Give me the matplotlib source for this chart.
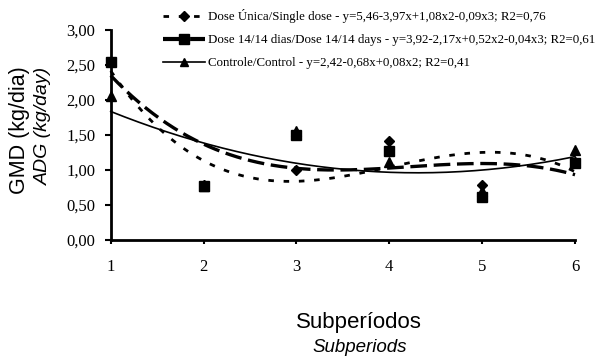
import numpy as np
import matplotlib
matplotlib.use('Agg')
import matplotlib.pyplot as plt
from matplotlib.lines import Line2D

# Subperiods on the x axis
subperiods = [1, 2, 3, 4, 5, 6]

# Average daily gain (kg/day)
dose_unica = [2.54, 0.78, 1.00, 1.42, 0.79, 1.12]
dose_1414 = [2.54, 0.77, 1.50, 1.27, 0.61, 1.10]
controle = [2.05, 0.77, 1.56, 1.11, 0.70, 1.28]

labels = ['Dose Única/Single dose - y=5,46-3,97x+1,08x2-0,09x3; R2=0,76',
          'Dose 14/14 dias/Dose 14/14 days - y=3,92-2,17x+0,52x2-0,04x3; R2=0,61',
          'Controle/Control - y=2,42-0,68x+0,08x2; R2=0,41']
yticks = [0.0, 0.5, 1.0, 1.5, 2.0, 2.5, 3.0]

serif = 'Liberation Serif'
sans = 'Liberation Sans'

fig = plt.figure(figsize=(6.15, 3.56), dpi=100)
ax = fig.add_axes([0.180, 0.326, 0.755, 0.590])

x = np.array(subperiods, dtype=float)
xs = np.linspace(1, 6, 200)

# trend lines (least squares polynomials, as the spreadsheet does)
fit_u = np.polyval(np.polyfit(x, dose_unica, 3), xs)
fit_d = np.polyval(np.polyfit(x, dose_1414, 3), xs)
fit_c = np.polyval(np.polyfit(x, controle, 2), xs)

ax.plot(xs, fit_u, color='black', lw=2.0, linestyle=(0, (2.0, 3.5)), clip_on=False)
ax.plot(xs, fit_d, color='black', lw=2.4, linestyle=(0, (5.0, 2.0)), clip_on=False)
ax.plot(xs, fit_c, color='black', lw=1.2, linestyle='-', clip_on=False)

ax.plot(x, controle, linestyle='none', marker='^', color='black', ms=6.5, clip_on=False)
ax.plot(x, dose_1414, linestyle='none', marker='s', color='black', ms=6.5, clip_on=False)
ax.plot(x, dose_unica, linestyle='none', marker='D', color='black', ms=5.5, clip_on=False)

ax.set_xlim(1, 6)
ax.set_ylim(0, 3)
ax.set_xticks(subperiods)
ax.set_xticklabels([str(s) for s in subperiods], fontfamily=serif, fontsize=12)
ax.set_yticks(yticks)
ax.set_yticklabels([f'{v:.2f}'.replace('.', ',') for v in yticks], fontfamily=serif, fontsize=12)
ax.tick_params(axis='x', direction='out', length=3, width=1.5, pad=11)
ax.tick_params(axis='y', direction='out', length=4, width=1.5, pad=7)

for side in ['top', 'right']:
    ax.spines[side].set_visible(False)
for side in ['left', 'bottom']:
    ax.spines[side].set_linewidth(2.0)

# axis titles
fig.text(0.032, 0.635, 'GMD (kg/dia)', rotation=90, ha='center', va='center',
         fontfamily=sans, fontsize=15.5)
fig.text(0.071, 0.645, 'ADG (kg/day)', rotation=90, ha='center', va='center',
         fontfamily=sans, fontsize=14, style='italic')
fig.text(0.584, 0.095, 'Subperíodos', ha='center', va='center', fontfamily=sans, fontsize=16)
fig.text(0.585, 0.025, 'Subperiods', ha='center', va='center', fontfamily=sans, fontsize=13.5,
         style='italic')

handles = [
    Line2D([], [], color='black', lw=2.0, linestyle=(0, (2.0, 3.5)), marker='D', ms=5),
    Line2D([], [], color='black', lw=3.0, linestyle=(0, (5.0, 1.5)), marker='s', ms=7),
    Line2D([], [], color='black', lw=1.2, linestyle='-', marker='^', ms=6),
]
leg = fig.legend(handles, labels, loc='upper left', bbox_to_anchor=(0.250, 1.0),
                 frameon=False, handlelength=3.3, handletextpad=0.2, labelspacing=0.86,
                 borderaxespad=0.3, prop={'family': serif, 'size': 9.3})

plt.savefig('out.png', dpi=100)
